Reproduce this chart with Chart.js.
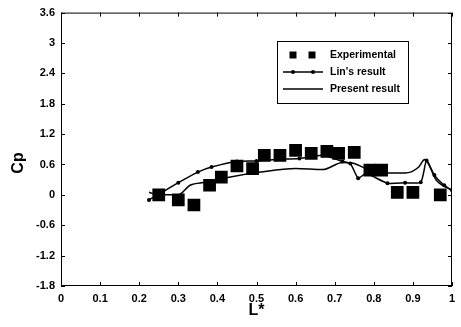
<!DOCTYPE html>
<html>
<head>
<meta charset="utf-8">
<script src="https://cdn.jsdelivr.net/npm/chart.js@4/dist/chart.umd.min.js"></script>
<style>
  html, body { margin: 0; padding: 0; background: #fff; overflow: hidden; }
  canvas { display: block; }
</style>
</head>
<body>
<canvas id="cp" width="461" height="327"></canvas>
<script>
// Experimental points
const expX = [0.25, 0.30, 0.34, 0.38, 0.41, 0.45, 0.49, 0.52, 0.56, 0.60, 0.64, 0.68, 0.71, 0.75, 0.79, 0.82, 0.86, 0.90, 0.97];
const expY = [0.0, -0.1, -0.2, 0.19, 0.35, 0.57, 0.52, 0.78, 0.78, 0.88, 0.82, 0.86, 0.82, 0.84, 0.49, 0.49, 0.05, 0.05, 0.0];

// Lin's result (line + small dots)
const linX = [0.225, 0.30, 0.35, 0.385, 0.45, 0.50, 0.55, 0.61, 0.67, 0.72, 0.74, 0.76, 0.78, 0.835, 0.88, 0.92, 0.935, 0.955, 0.98, 1.0];
const linY = [-0.1, 0.24, 0.45, 0.55, 0.66, 0.67, 0.70, 0.72, 0.78, 0.66, 0.62, 0.33, 0.42, 0.23, 0.24, 0.25, 0.68, 0.39, 0.19, 0.09];

// Present result (plain line)
const preX = [0.225, 0.25, 0.30, 0.33, 0.37, 0.43, 0.51, 0.60, 0.67, 0.72, 0.75, 0.78, 0.835, 0.88, 0.915, 0.93, 0.96, 1.0];
const preY = [0.05, 0.0, 0.0, 0.19, 0.25, 0.35, 0.45, 0.52, 0.50, 0.64, 0.62, 0.52, 0.43, 0.43, 0.55, 0.70, 0.29, 0.09];

const xTicks = [0, 0.1, 0.2, 0.3, 0.4, 0.5, 0.6, 0.7, 0.8, 0.9, 1];
const yTicks = [-1.8, -1.2, -0.6, 0, 0.6, 1.2, 1.8, 2.4, 3, 3.6];

const seriesNames = ["Experimental", "Lin's result", "Present result"];

function pts(xs, ys) {
  return xs.map((x, i) => ({ x: x, y: ys[i] }));
}

const FONT = "'Liberation Sans', Arial, sans-serif";

// frame, inner ticks, axis titles and the boxed legend
const decorPlugin = {
  id: "decor",
  afterDraw(chart) {
    const ctx = chart.ctx;
    const a = chart.chartArea;
    const sx = chart.scales.x, sy = chart.scales.y;
    ctx.save();
    ctx.strokeStyle = "#000";
    ctx.lineWidth = 1;
    ctx.strokeRect(a.left + 0.5, a.top + 0.5, a.right - a.left - 1, a.bottom - a.top - 1);
    const tl = 4;
    ctx.beginPath();
    xTicks.forEach((v) => {
      const px = Math.round(sx.getPixelForValue(v)) + 0.5;
      ctx.moveTo(px, a.bottom); ctx.lineTo(px, a.bottom - tl);
      ctx.moveTo(px, a.top); ctx.lineTo(px, a.top + tl);
    });
    yTicks.forEach((v) => {
      const py = Math.round(sy.getPixelForValue(v)) + 0.5;
      ctx.moveTo(a.left, py); ctx.lineTo(a.left + tl, py);
      ctx.moveTo(a.right, py); ctx.lineTo(a.right - tl, py);
    });
    ctx.stroke();

    // axis titles
    ctx.fillStyle = "#000";
    ctx.font = "bold 16px " + FONT;
    ctx.textAlign = "center";
    ctx.textBaseline = "middle";
    ctx.fillText("L*", (a.left + a.right) / 2, 311);
    ctx.save();
    ctx.translate(19, 163);
    ctx.rotate(-Math.PI / 2);
    ctx.fillText("Cp", 0, 0);
    ctx.restore();

    // legend box
    const bx = 277, by = 41, bw = 131, bh = 62;
    ctx.fillStyle = "#fff";
    ctx.fillRect(bx, by, bw, bh);
    ctx.strokeRect(bx + 0.5, by + 0.5, bw, bh);
    ctx.fillStyle = "#000";
    const rows = [55, 72, 89];
    // experimental squares
    [293, 312].forEach((cx) => ctx.fillRect(cx - 3.5, rows[0] - 3.5, 7, 7));
    // Lin's line with dots
    ctx.lineWidth = 1.5;
    ctx.beginPath();
    ctx.moveTo(283, rows[1]); ctx.lineTo(323, rows[1]);
    ctx.stroke();
    [293, 313].forEach((cx) => {
      ctx.beginPath(); ctx.arc(cx, rows[1], 2, 0, Math.PI * 2); ctx.fill();
    });
    // present line
    ctx.beginPath();
    ctx.moveTo(283, rows[2]); ctx.lineTo(323, rows[2]);
    ctx.stroke();
    ctx.font = "bold 10.5px " + FONT;
    ctx.textAlign = "left";
    seriesNames.forEach((n, i) => ctx.fillText(n, 330, rows[i] + 0.5));
    ctx.restore();
  },
};

const tickFont = { family: FONT, size: 11, weight: "bold" };

new Chart(document.getElementById("cp"), {
  type: "scatter",
  data: {
    datasets: [
      {
        label: seriesNames[0],
        data: pts(expX, expY),
        pointStyle: "rect",
        pointRadius: 9,
        backgroundColor: "#000",
        borderColor: "#000",
        borderWidth: 0,
        showLine: false,
        order: 0,
      },
      {
        label: seriesNames[1],
        data: pts(linX, linY),
        showLine: true,
        borderColor: "#000",
        backgroundColor: "#000",
        borderWidth: 1.5,
        pointRadius: 2,
        pointBorderWidth: 0,
        tension: 0.2,
        order: 1,
      },
      {
        label: seriesNames[2],
        data: pts(preX, preY),
        showLine: true,
        borderColor: "#000",
        borderWidth: 1.5,
        pointRadius: 0,
        cubicInterpolationMode: "monotone",
        order: 2,
      },
    ],
  },
  options: {
    responsive: false,
    animation: false,
    layout: { padding: { top: 12, right: 6, left: 0, bottom: 0 } },
    plugins: {
      legend: { display: false },
      tooltip: { enabled: false },
    },
    scales: {
      x: {
        type: "linear",
        min: 0,
        max: 1,
        afterFit: (s) => { s.height = 41; s.paddingRight = 0; s.paddingLeft = 0; },
        afterBuildTicks: (s) => { s.ticks = xTicks.map((v) => ({ value: v })); },
        ticks: {
          color: "#000",
          font: tickFont,
          padding: 6,
          maxRotation: 0,
          callback: (v) => String(Number(v.toFixed(1))),
        },
        grid: { display: false, drawTicks: false },
        border: { display: false },
      },
      y: {
        min: -1.8,
        max: 3.6,
        afterFit: (s) => { s.width = 61; },
        afterBuildTicks: (s) => { s.ticks = yTicks.map((v) => ({ value: v })); },
        ticks: {
          color: "#000",
          font: tickFont,
          padding: 6,
          callback: (v) => String(Number(v.toFixed(1))),
        },
        grid: { display: false, drawTicks: false },
        border: { display: false },
      },
    },
  },
  plugins: [decorPlugin],
});
</script>
</body>
</html>
